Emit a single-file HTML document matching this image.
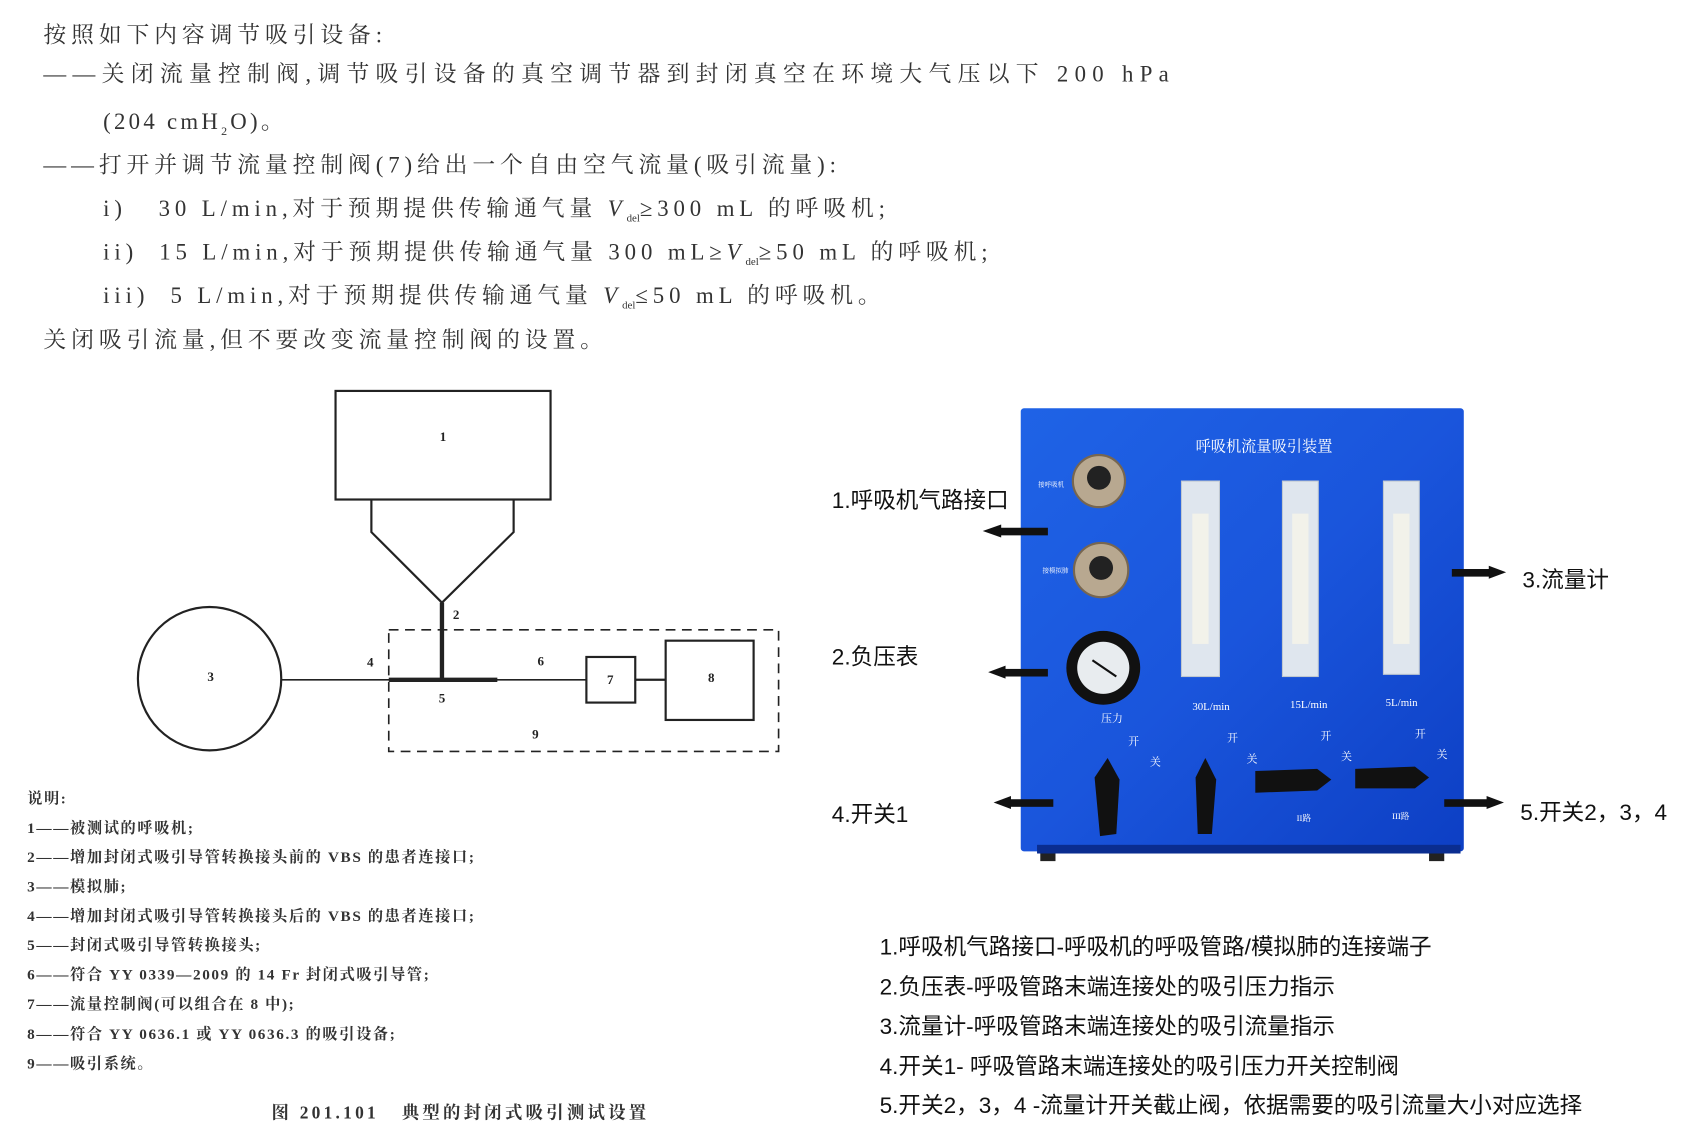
<!DOCTYPE html>
<html><head><meta charset="utf-8"><style>
html,body{margin:0;padding:0;background:#fff;width:1694px;height:1132px;overflow:hidden}
#w{position:absolute;left:0;top:0;width:1560px;height:1042px;transform:scale(1.0859);transform-origin:0 0}
.t{position:absolute;white-space:nowrap;font-family:"Liberation Serif","Noto Serif CJK SC",serif;color:#333;font-size:21px;letter-spacing:4.5px}
.l{position:absolute;white-space:nowrap;font-family:"Liberation Serif","Noto Serif CJK SC",serif;color:#333;font-size:14px;font-weight:bold;letter-spacing:1.5px}
.s{position:absolute;white-space:nowrap;font-family:"Liberation Sans","Noto Sans CJK SC",sans-serif;color:#111;font-size:20.8px}
.w{position:absolute;white-space:nowrap;font-family:"Liberation Serif","Noto Serif CJK SC",serif;color:#fff;font-size:10px}
</style></head><body><div id="w">
<div class="t" style="left:40px;top:16px">按照如下内容调节吸引设备:</div>
<div class="t" style="left:40px;top:52px;letter-spacing:5.8px">——关闭流量控制阀,调节吸引设备的真空调节器到封闭真空在环境大气压以下 200 hPa</div>
<div class="t" style="left:95px;top:96px;letter-spacing:3px">(204 cmH<sub style="font-size:11px">2</sub>O)。</div>
<div class="t" style="left:40px;top:136px">——打开并调节流量控制阀(7)给出一个自由空气流量(吸引流量):</div>
<div class="t" style="left:95px;top:176px">i)&nbsp;&nbsp; 30 L/min,对于预期提供传输通气量 <i>V</i><sub style="font-size:10px;letter-spacing:0">del</sub>≥300 mL 的呼吸机;</div>
<div class="t" style="left:95px;top:216px">ii)&nbsp; 15 L/min,对于预期提供传输通气量 300 mL≥<i>V</i><sub style="font-size:10px;letter-spacing:0">del</sub>≥50 mL 的呼吸机;</div>
<div class="t" style="left:95px;top:256px">iii)&nbsp; 5 L/min,对于预期提供传输通气量 <i>V</i><sub style="font-size:10px;letter-spacing:0">del</sub>≤50 mL 的呼吸机。</div>
<div class="t" style="left:40px;top:297px">关闭吸引流量,但不要改变流量控制阀的设置。</div>

<svg style="position:absolute;left:0;top:0" width="1560" height="1042">
<g fill="none" stroke="#222" stroke-width="2">
<rect x="309" y="360" width="198" height="100"/>
<polyline points="342,460 342,490 407,555 473,490 473,460"/>
<circle cx="193" cy="625" r="66"/>
<line x1="259" y1="626" x2="540" y2="626" stroke-width="1.5"/>
<line x1="358" y1="626" x2="458" y2="626" stroke-width="4"/>
<line x1="407" y1="555" x2="407" y2="626" stroke-width="4"/>
<rect x="540" y="605" width="45" height="42"/>
<line x1="585" y1="626" x2="613" y2="626"/>
<rect x="613" y="590" width="81" height="73"/>
<rect x="358" y="580" width="359" height="112" stroke-dasharray="9,6" stroke-width="1.5"/>
</g>
<g font-family="Liberation Serif" font-size="12" font-weight="bold" fill="#222" text-anchor="middle">
<text x="408" y="406">1</text><text x="420" y="570">2</text><text x="194" y="627">3</text>
<text x="341" y="614">4</text><text x="407" y="647">5</text><text x="498" y="613">6</text>
<text x="562" y="630">7</text><text x="655" y="628">8</text><text x="493" y="680">9</text>
</g>
</svg>

<div class="l" style="left:25px;top:725px">说明:</div>
<div class="l" style="left:25px;top:752px">1——被测试的呼吸机;</div>
<div class="l" style="left:25px;top:779px">2——增加封闭式吸引导管转换接头前的 VBS 的患者连接口;</div>
<div class="l" style="left:25px;top:806px">3——模拟肺;</div>
<div class="l" style="left:25px;top:833px">4——增加封闭式吸引导管转换接头后的 VBS 的患者连接口;</div>
<div class="l" style="left:25px;top:860px">5——封闭式吸引导管转换接头;</div>
<div class="l" style="left:25px;top:887px">6——符合 YY 0339—2009 的 14 Fr 封闭式吸引导管;</div>
<div class="l" style="left:25px;top:914px">7——流量控制阀(可以组合在 8 中);</div>
<div class="l" style="left:25px;top:942px">8——符合 YY 0636.1 或 YY 0636.3 的吸引设备;</div>
<div class="l" style="left:25px;top:969px">9——吸引系统。</div>
<div class="l" style="left:250px;top:1012px;font-size:16px;letter-spacing:3px">图 201.101&nbsp;&nbsp; 典型的封闭式吸引测试设置</div>

<svg style="position:absolute;left:0;top:0" width="1560" height="1042">
<defs><linearGradient id="g" x1="0" x2="1" y1="0" y2="1"><stop offset="0" stop-color="#1f63e6"/><stop offset=".5" stop-color="#1a55dc"/><stop offset="1" stop-color="#0d3fc4"/></linearGradient></defs>
<rect x="958" y="783" width="14" height="10" fill="#222"/><rect x="1316" y="783" width="14" height="10" fill="#222"/>
<rect x="940" y="376" width="408" height="408" rx="3" fill="url(#g)"/>
<rect x="955" y="778" width="390" height="8" fill="#0a2d90"/>
<g fill="#b8a890" stroke="#776650" stroke-width="2"><circle cx="1012" cy="443" r="24"/><circle cx="1014" cy="525" r="25"/></g>
<g fill="#222"><circle cx="1012" cy="440" r="11"/><circle cx="1014" cy="523" r="11"/></g>
<circle cx="1016" cy="615" r="34" fill="#111"/><circle cx="1016" cy="615" r="24" fill="#e8ecef"/>
<line x1="1006" y1="608" x2="1028" y2="623" stroke="#111" stroke-width="2"/>
<g fill="#dfe6ee" stroke="#c0c8d0"><rect x="1088" y="443" width="35" height="180"/><rect x="1181" y="443" width="33" height="180"/><rect x="1274" y="443" width="33" height="178"/></g>
<g fill="#f2f2ea"><rect x="1098" y="473" width="15" height="120"/><rect x="1190" y="473" width="15" height="120"/><rect x="1283" y="473" width="15" height="120"/></g>
<g fill="#111">
<path d="M1008,716 L1020,698 L1031,718 L1028,768 L1013,770 Z"/>
<path d="M1101,716 L1110,698 L1120,718 L1116,768 L1103,768 Z"/>
<path d="M1156,710 L1213,708 L1226,718 L1213,728 L1156,730 Z"/>
<path d="M1248,708 L1303,706 L1316,716 L1303,726 L1248,726 Z"/>
</g>
</svg>
<div class="w" style="left:1101px;top:401px;font-size:14px">呼吸机流量吸引装置</div>
<div class="w" style="left:956px;top:441px;font-size:6px">接呼吸机</div>
<div class="w" style="left:960px;top:520px;font-size:6px">接模拟肺</div>
<div class="w" style="left:1014px;top:653px">压力</div>
<div class="w" style="left:1098px;top:646px">30L/min</div>
<div class="w" style="left:1188px;top:644px">15L/min</div>
<div class="w" style="left:1276px;top:642px">5L/min</div>
<div class="w" style="left:1039px;top:674px">开</div><div class="w" style="left:1130px;top:671px">开</div><div class="w" style="left:1216px;top:669px">开</div><div class="w" style="left:1303px;top:667px">开</div>
<div class="w" style="left:1059px;top:693px">关</div><div class="w" style="left:1148px;top:690px">关</div><div class="w" style="left:1235px;top:688px">关</div><div class="w" style="left:1323px;top:686px">关</div>
<div class="w" style="left:1194px;top:748px;font-size:8px">II路</div><div class="w" style="left:1282px;top:746px;font-size:8px">III路</div>

<svg style="position:absolute;left:0;top:0" width="1560" height="1042">
<g fill="#111">
<rect x="918" y="486" width="47" height="7"/><path d="M905,489 L922,483 L922,495 Z"/>
<rect x="922" y="616" width="43" height="7"/><path d="M910,619 L926,613 L926,625 Z"/>
<rect x="928" y="736" width="42" height="7"/><path d="M915,739 L931,733 L931,745 Z"/>
<rect x="1337" y="524" width="38" height="7"/><path d="M1387,527 L1371,521 L1371,533 Z"/>
<rect x="1330" y="736" width="43" height="7"/><path d="M1385,739 L1369,733 L1369,745 Z"/>
</g>
</svg>
<div class="s" style="left:766px;top:444px">1.呼吸机气路接口</div>
<div class="s" style="left:766px;top:588px">2.负压表</div>
<div class="s" style="left:766px;top:733px">4.开关1</div>
<div class="s" style="left:1402px;top:517px">3.流量计</div>
<div class="s" style="left:1400px;top:731px">5.开关2，3，4</div>
<div class="s" style="left:810px;top:855px">1.呼吸机气路接口-呼吸机的呼吸管路/模拟肺的连接端子</div>
<div class="s" style="left:810px;top:892px">2.负压表-呼吸管路末端连接处的吸引压力指示</div>
<div class="s" style="left:810px;top:928px">3.流量计-呼吸管路末端连接处的吸引流量指示</div>
<div class="s" style="left:810px;top:965px">4.开关1- 呼吸管路末端连接处的吸引压力开关控制阀</div>
<div class="s" style="left:810px;top:1001px">5.开关2，3，4 -流量计开关截止阀，依据需要的吸引流量大小对应选择</div>
</div></body></html>
